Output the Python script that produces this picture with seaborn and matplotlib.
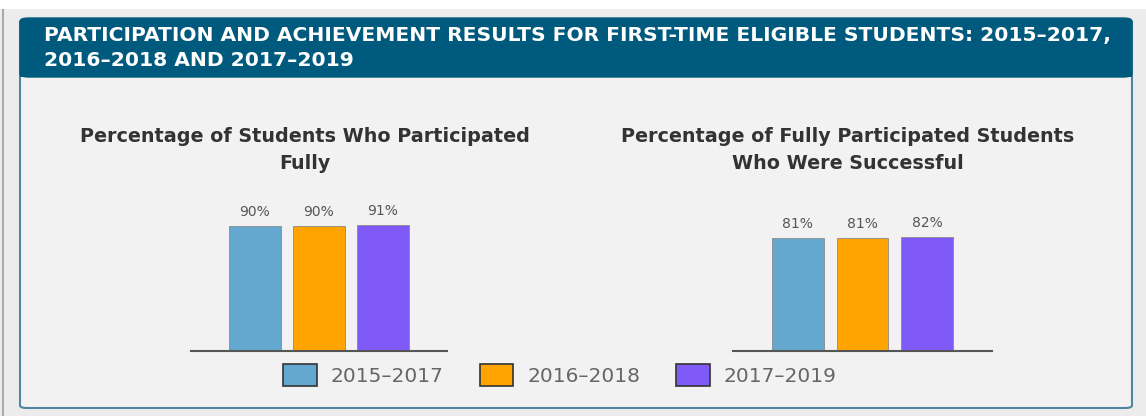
import matplotlib
matplotlib.use("Agg")
import matplotlib.pyplot as plt
import seaborn as sns
import pandas as pd
from matplotlib.patches import Rectangle, FancyBboxPatch, Patch

# ---- data ----
periods = ["2015\u20132017", "2016\u20132018", "2017\u20132019"]
participated = [90, 90, 91]
successful = [81, 81, 82]
panel_titles = ["Percentage of Students Who Participated\nFully",
                "Percentage of Fully Participated Students\nWho Were Successful"]
header = ("PARTICIPATION AND ACHIEVEMENT RESULTS FOR FIRST-TIME ELIGIBLE STUDENTS: 2015\u20132017,\n"
          "2016\u20132018 AND 2017\u20132019")
colors = ["#64a7cf", "#ffa400", "#7f5af9"]

sns.set_theme(style="white")
plt.rcParams['font.family'] = ['DejaVu Sans']

W, H = 1146, 416
fig = plt.figure(figsize=(W / 100, H / 100), dpi=100)
fig.patch.set_facecolor("#ececec")

def px(x, y_top, w, h):
    """pixel box from top-left to figure fraction rect"""
    return (x / W, (H - y_top - h) / H, w / W, h / H)

# top white strip
x0, y0, w0, h0 = px(0, 0, W, 9)
fig.patches.append(Rectangle((x0, y0), w0, h0, transform=fig.transFigure,
                             facecolor="white", edgecolor="none", zorder=-5))
# left gray line
x0, y0, w0, h0 = px(2, 9, 2, H - 9)
fig.patches.append(Rectangle((x0, y0), w0, h0, transform=fig.transFigure,
                             facecolor="#a9a9a9", edgecolor="none", zorder=-5))
# card body
x0, y0, w0, h0 = px(20, 20, 1112, 388)
fig.patches.append(FancyBboxPatch((x0, y0), w0, h0, transform=fig.transFigure,
                                  boxstyle="round,pad=0,rounding_size=0.006",
                                  facecolor="#f2f2f2", edgecolor="#4f87a3", linewidth=1.5, zorder=-5))
# header
x0, y0, w0, h0 = px(20, 18, 1112, 59)
fig.patches.append(FancyBboxPatch((x0, y0), w0, h0, transform=fig.transFigure,
                                  boxstyle="round,pad=0,rounding_size=0.008",
                                  facecolor="#005a7e", edgecolor="#005a7e", linewidth=1, zorder=-4))
x0, y0, w0, h0 = px(20, 60, 1112, 17)
fig.patches.append(Rectangle((x0, y0), w0, h0, transform=fig.transFigure,
                             facecolor="#005a7e", edgecolor="none", zorder=-4))
fig.text(44 / W, 1 - 26 / H, header, color="white", fontsize=14.6, fontweight="bold",
         ha="left", va="top", linespacing=1.38)

# ---- panels ----
df1 = pd.DataFrame({"period": periods, "value": participated})
df2 = pd.DataFrame({"period": periods, "value": successful})

axes_rects = [px(191, 212, 256, 139), px(733, 212, 259, 139)]
title_x = [305, 848]
for i, (df, rect) in enumerate(zip([df1, df2], axes_rects)):
    ax = fig.add_axes(rect)
    ax.set_zorder(2)
    sns.barplot(data=df, x="period", y="value", hue="period", palette=colors,
                width=0.8, legend=False, ax=ax, edgecolor="#8a8a8a", linewidth=0.6,
                saturation=1)
    ax.set_xlim(-1, 3)
    ax.set_ylim(0, 100)
    ax.patch.set_visible(False)
    for s in ["top", "right", "left"]:
        ax.spines[s].set_visible(False)
    ax.spines["bottom"].set_color("#555555")
    ax.spines["bottom"].set_linewidth(1.5)
    ax.set_xticks([])
    ax.set_yticks([])
    ax.set_xlabel("")
    ax.set_ylabel("")
    for c in ax.containers:
        ax.bar_label(c, fmt="%d%%", padding=5, fontsize=10, color="#555555")
    fig.text(title_x[i] / W, 1 - 127 / H, panel_titles[i], ha="center", va="top",
             fontsize=13.8, fontweight="bold", color="#333333", linespacing=1.55)

handles = [Patch(facecolor=c, edgecolor="#333333", linewidth=1.2) for c in colors]
fig.legend(handles, periods, loc="center", bbox_to_anchor=(560 / W, 1 - 375 / H), ncol=3,
           frameon=False, fontsize=14.5, labelcolor="#666666", handlelength=1.65,
           handleheight=1.25, handletextpad=0.7, columnspacing=1.8)

fig.savefig("out.png", dpi=100, facecolor=fig.get_facecolor())
